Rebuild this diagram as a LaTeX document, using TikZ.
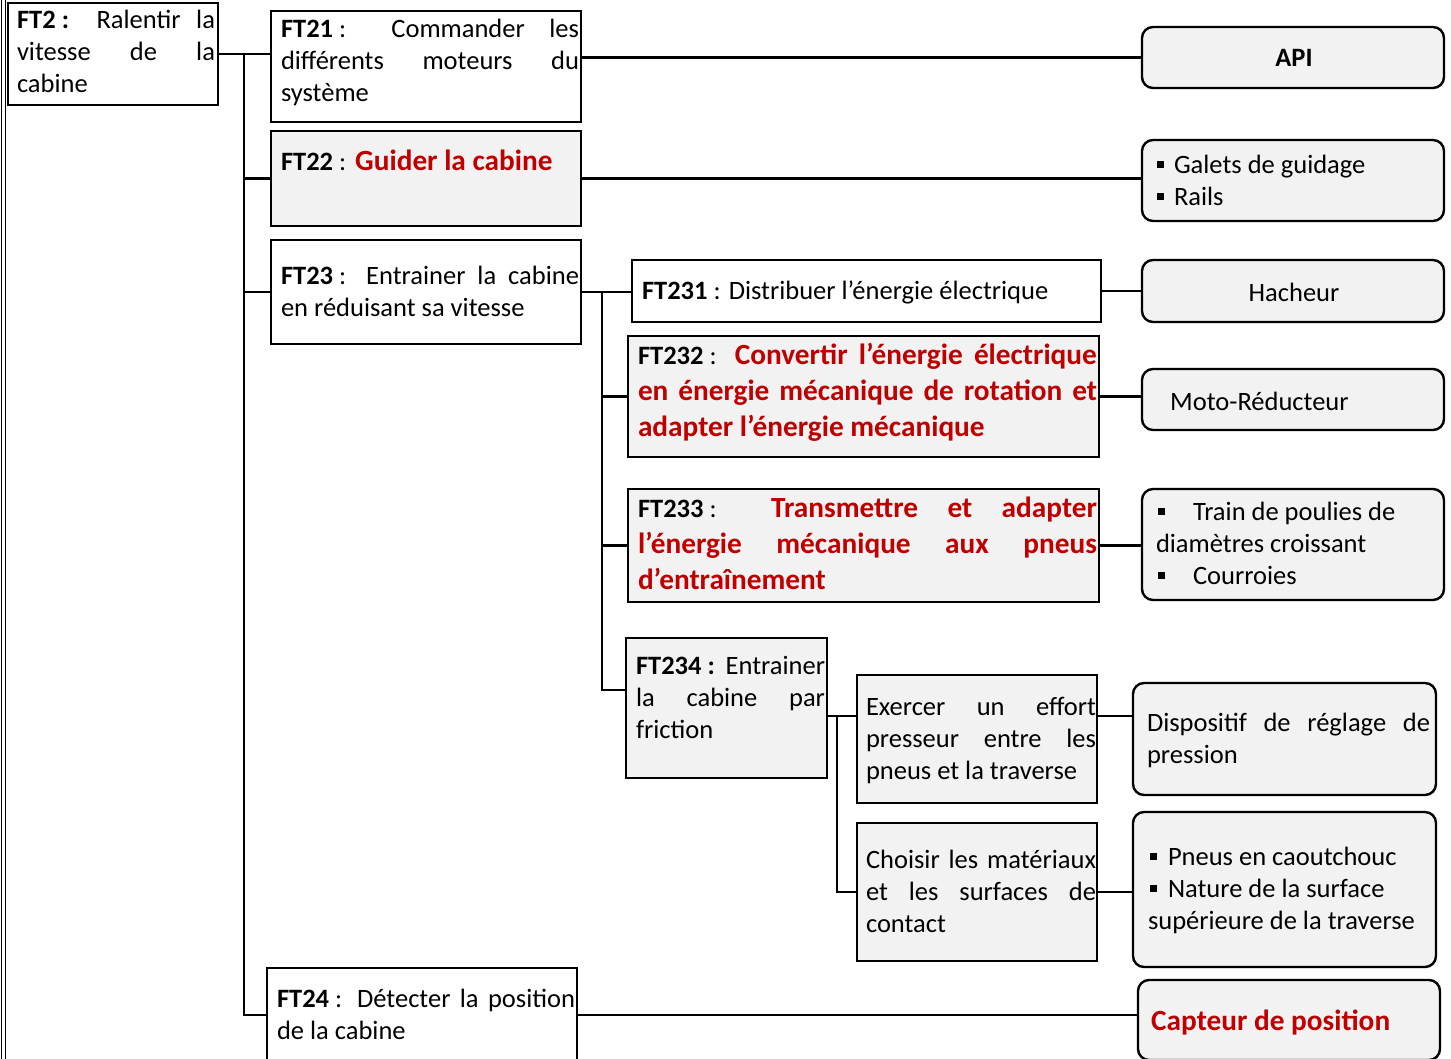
\documentclass[tikz,border=0pt]{standalone}
\usepackage{fontspec}
\setmainfont{Carlito}
\definecolor{redt}{HTML}{C00000}
\definecolor{boxgray}{HTML}{F2F2F2}
\newcommand\ntxt{\fontsize{26.5}{32.4}\selectfont}
\newcommand\rtxt{\fontsize{29.3}{35.8}\selectfont}
\newcommand\sqb{\rule[5.5pt]{7pt}{7pt}}
\newcommand\fsp{\hspace{0.23em}}
\newcommand\para{\tolerance=10000\hbadness=10000\hyphenpenalty=10000\exhyphenpenalty=10000}
\begin{document}
\begin{tikzpicture}[x=1pt,y=-1pt,
  frame/.style={draw,line width=2.4pt,anchor=north west,inner sep=0pt,outer sep=0pt},
  wbox/.style={frame,fill=white},
  gbox/.style={frame,fill=boxgray},
  rbox/.style={frame,fill=boxgray,rounded corners=11pt},
  txt/.style={anchor=north west,inner sep=0pt,outer sep=0pt,align=justify,font=\ntxt\para},
  rtx/.style={txt,font=\rtxt\para},
  ltxt/.style={anchor=north west,inner sep=0pt,outer sep=0pt,align=left,font=\ntxt},
  link/.style={line width=2.2pt},
]
\useasboundingbox (0,0) rectangle (1451,1059);
\clip (0,0) rectangle (1451,1059);

% left page border
\draw[line width=1.3pt] (1.5,0) -- (1.5,1059);
\draw[line width=1.3pt] (5.5,0) -- (5.5,1059);

% function boxes
\node[wbox,minimum width=210,minimum height=102] (ft2)  at (8,3) {};
\node[wbox,minimum width=310,minimum height=111] (ft21) at (271,11) {};
\node[gbox,minimum width=310,minimum height=95]  (ft22) at (271,131) {};
\node[wbox,minimum width=310,minimum height=104] (ft23) at (271,240) {};
\node[wbox,minimum width=310,minimum height=94]  (ft24) at (267,968) {};
\node[wbox,minimum width=469,minimum height=62]  (ft231) at (632,260) {};
\node[gbox,minimum width=471,minimum height=121] (ft232) at (628,336) {};
\node[gbox,minimum width=471,minimum height=113] (ft233) at (628,489) {};
\node[gbox,minimum width=201,minimum height=140] (ft234) at (626,638) {};
\node[gbox,minimum width=240,minimum height=128] (exer) at (857,675) {};
\node[gbox,minimum width=240,minimum height=138] (chois) at (857,823) {};

% solution boxes
\node[rbox,minimum width=302,minimum height=61]  (api)    at (1142,27) {};
\node[rbox,minimum width=302,minimum height=81]  (galets) at (1142,140) {};
\node[rbox,minimum width=302,minimum height=62]  (hach)   at (1142,260) {};
\node[rbox,minimum width=302,minimum height=61]  (moto)   at (1142,369) {};
\node[rbox,minimum width=302,minimum height=111] (train)  at (1142,489) {};
\node[rbox,minimum width=303,minimum height=112] (disp)   at (1133,683) {};
\node[rbox,minimum width=303,minimum height=155] (pneus)  at (1133,812) {};
\node[rbox,minimum width=302,minimum height=80]  (capt)   at (1138,980) {};

% texts of the function boxes
\node[txt,text width=198] (ft2t) at (17,5.4)
  {\strut\textbf{FT2\fsp:} Ralentir la\linebreak vitesse de la\linebreak cabine};
\node[txt,text width=298] (ft21t) at (281,14.4)
  {\strut\textbf{FT21}\fsp: Commander les\linebreak différents moteurs du\linebreak système};
\node[rtx,text width=298] (ft22t) at (281,145.4)
  {\strut{\ntxt\textbf{FT22}\fsp:} {\color{redt}\bfseries Guider la cabine}};
\node[txt,text width=298] (ft23t) at (281,261.4)
  {\strut\textbf{FT23}\fsp: Entrainer la cabine\linebreak en réduisant sa vitesse};
\node[txt,text width=440] (ft231t) at (642,276.4)
  {\strut\textbf{FT231}\fsp: Distribuer l’énergie électrique};
\node[rtx,text width=459] (ft232t) at (638,339.4)
  {\strut{\ntxt\textbf{FT232}\fsp:} {\color{redt}\bfseries Convertir l’énergie électrique\linebreak en énergie mécanique de rotation et\linebreak adapter l’énergie mécanique}};
\node[rtx,text width=459] (ft233t) at (638,492.4)
  {\strut{\ntxt\textbf{FT233}\fsp:} {\color{redt}\bfseries Transmettre et adapter\linebreak l’énergie mécanique aux pneus\linebreak d’entraînement}};
\node[txt,text width=189] (ft234t) at (636,651.4)
  {\strut\textbf{FT234\fsp:} Entrainer\linebreak la cabine par\linebreak friction};
\node[txt,text width=230] (exert) at (866,692.4)
  {\strut Exercer un effort\linebreak presseur entre les\linebreak pneus et la traverse};
\node[txt,text width=230] (choist) at (866,845.4)
  {\strut Choisir les matériaux\linebreak et les surfaces de\linebreak contact};
\node[txt,text width=298] (ft24t) at (277,984.4)
  {\strut\textbf{FT24}\fsp: Détecter la position\linebreak de la cabine};

% texts of the solution boxes
\node[inner sep=0pt,font=\ntxt\bfseries] (apit) at (1294,58) {API};
\node[ltxt] (galt) at (1157,150.4)
  {\strut\sqb\hspace{10pt}Galets de guidage\\\sqb\hspace{10pt}Rails};
\node[inner sep=0pt,font=\ntxt] (hacht) at (1294,292) {Hacheur};
\node[inner sep=0pt,font=\ntxt,anchor=west] (motot) at (1170,401) {Moto-Réducteur};
\node[ltxt] (traint) at (1156,497.4)
  {\strut\hspace*{2pt}\sqb\hspace{28pt}Train de poulies de\\diamètres croissant\\\hspace*{2pt}\sqb\hspace{28pt}Courroies};
\node[txt,text width=283] (dispt) at (1147,708.4)
  {\strut Dispositif de réglage de\linebreak pression};
\node[ltxt] (pneust) at (1148,842.4)
  {\strut\hspace*{2pt}\sqb\hspace{11pt}Pneus en caoutchouc\\\hspace*{2pt}\sqb\hspace{11pt}Nature de la surface\\supérieure de la traverse};
\node[inner sep=0pt,font=\rtxt\bfseries,text=redt,anchor=west] (captt) at (1151,1022) {Capteur de position};

% junction points of the trees
\coordinate (busLtop) at (244,54);
\coordinate (busLbot) at (244,1015);
\coordinate (busMtop) at (602,292);
\coordinate (busMbot) at (602,690);
\coordinate (busRtop) at (837,716);
\coordinate (busRbot) at (837,892);

% main tree
\draw[link] (ft2.east) -- (ft2.east -| ft21.west);
\draw[link] (busLtop) -- (busLbot) -- (busLbot -| ft24.west);
\draw[link] (ft22.west -| busLtop) -- (ft22.west);
\draw[link] (ft23.west -| busLtop) -- (ft23.west);

% FT23 sub-tree
\draw[link] (ft23.east) -- (ft231.west |- ft23.east);
\draw[link] (busMtop) -- (busMbot) -- (busMbot -| ft234.west);
\draw[link] (ft232.west -| busMtop) -- (ft232.west);
\draw[link] (ft233.west -| busMtop) -- (ft233.west);

% FT234 sub-tree
\draw[link] (ft234.east |- busRtop) -- (exer.west |- busRtop);
\draw[link] (busRtop) -- (busRbot) -- (chois.west |- busRbot);

% links to the solutions
\draw[link] (ft21.east |- api.west) -- (api.west);
\draw[link] (ft22.east) -- (galets.west |- ft22.east);
\draw[link] (ft231.east) -- (hach.west |- ft231.east);
\draw[link] (ft232.east) -- (moto.west |- ft232.east);
\draw[link] (ft233.east) -- (train.west |- ft233.east);
\draw[link] (exer.east |- busRtop) -- (disp.west |- busRtop);
\draw[link] (chois.east) -- (pneus.west |- chois.east);
\draw[link] (ft24.east) -- (capt.west |- ft24.east);
\end{tikzpicture}
\end{document}
